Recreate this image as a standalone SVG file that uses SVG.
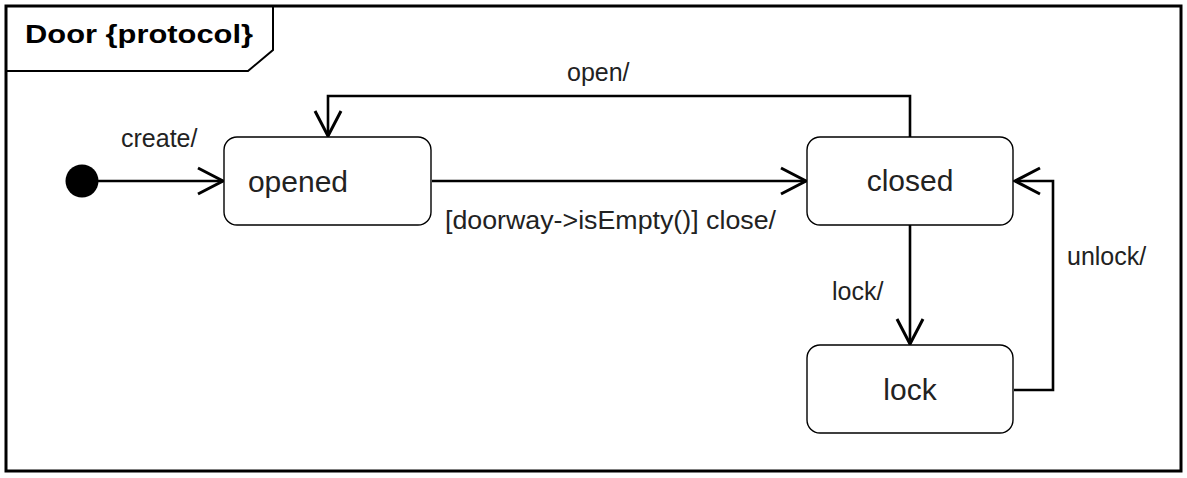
<svg xmlns="http://www.w3.org/2000/svg" width="1187" height="478" viewBox="0 0 1187 478">
  <style>
    .frame { fill: #fff; stroke: #000; stroke-width: 3; }
    .tab { fill: none; stroke: #000; stroke-width: 2; }
    .title { font-family: "Liberation Sans", Arial, sans-serif; font-weight: bold; font-size: 25px; fill: #000; }
    .state { fill: #fff; stroke: #000; stroke-width: 1.4; }
    .sname { font-family: "Liberation Sans", Arial, sans-serif; font-size: 30px; fill: #222; text-anchor: middle; }
    .lbl { font-family: "Liberation Sans", Arial, sans-serif; font-size: 25px; fill: #222; }
    .edge { fill: none; stroke: #000; stroke-width: 2.6; }
  </style>
  <defs>
    <marker id="open" markerUnits="userSpaceOnUse" viewBox="-28 -16 32 32" markerWidth="32" markerHeight="32" refX="0" refY="0" orient="auto">
      <path d="M-25,-13 L0,0 L-25,13" fill="none" stroke="#000" stroke-width="3"/>
    </marker>
  </defs>

  <g id="frame">
    <rect class="frame" x="6" y="6" width="1175" height="465"/>
    <path class="tab" d="M6,71 H248 L273,50 V6"/>
    <text class="title" x="25" y="43" textLength="228" lengthAdjust="spacingAndGlyphs">Door {protocol}</text>
  </g>

  <g id="connectors">
    <path class="edge" d="M98,181 H223" marker-end="url(#open)"/>
    <path class="edge" d="M432,181 H806" marker-end="url(#open)"/>
    <path class="edge" d="M910,137 V96 H328 V136" marker-end="url(#open)"/>
    <path class="edge" d="M910,225 V344" marker-end="url(#open)"/>
    <path class="edge" d="M1014,390 H1053 V181 H1015" marker-end="url(#open)"/>
    <text class="lbl" x="121" y="147">create/</text>
    <text class="lbl" x="567" y="81">open/</text>
    <text class="lbl" x="445" y="229" textLength="331" lengthAdjust="spacingAndGlyphs">[doorway-&gt;isEmpty()] close/</text>
    <text class="lbl" x="832" y="300">lock/</text>
    <text class="lbl" x="1067" y="265">unlock/</text>
  </g>

  <g id="initial">
    <circle cx="82" cy="181" r="16.5" fill="#000"/>
  </g>

  <g id="opened">
    <rect class="state" x="224" y="137" width="207" height="88" rx="13" ry="13"/>
    <text class="sname" x="298" y="192">opened</text>
  </g>

  <g id="closed">
    <rect class="state" x="807" y="137" width="206" height="88" rx="13" ry="13"/>
    <text class="sname" x="910" y="191">closed</text>
  </g>

  <g id="lock">
    <rect class="state" x="807" y="345" width="206" height="88" rx="13" ry="13"/>
    <text class="sname" x="910" y="400">lock</text>
  </g>
</svg>
